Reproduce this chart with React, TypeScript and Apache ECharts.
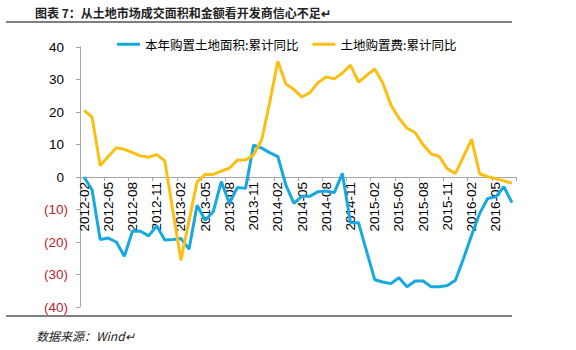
import React, { useEffect, useRef } from "react";
import * as echarts from "echarts";

const categories: string[] = [
  "2012-02", "2012-03", "2012-04", "2012-05", "2012-06", "2012-07", "2012-08", "2012-09", "2012-10", "2012-11", "2012-12",
  "2013-01", "2013-02", "2013-03", "2013-04", "2013-05", "2013-06", "2013-07", "2013-08", "2013-09", "2013-10", "2013-11", "2013-12",
  "2014-01", "2014-02", "2014-03", "2014-04", "2014-05", "2014-06", "2014-07", "2014-08", "2014-09", "2014-10", "2014-11", "2014-12",
  "2015-01", "2015-02", "2015-03", "2015-04", "2015-05", "2015-06", "2015-07", "2015-08", "2015-09", "2015-10", "2015-11", "2015-12",
  "2016-01", "2016-02", "2016-03", "2016-04", "2016-05", "2016-06", "2016-07",
];

// 本年购置土地面积:累计同比 (%)
const landAreaYoY: number[] = [
  0, -4.0, -19.2, -18.8, -20.0, -24.4, -16.6, -16.7, -18.1, -15.0, -19.4,
  -19.2, -18.9, -22.2, -8.7, -13.3, -10.7, -1.4, -8.1, -3.2, -3.5, 9.8, 8.9,
  7.5, 6.3, -2.5, -8.1, -5.9, -5.9, -4.5, -4.3, -4.8, 1.1, -14.1, -14.1,
  -22.9, -31.6, -32.3, -32.8, -31.0, -33.8, -32.0, -32.0, -33.8, -33.8, -33.4, -31.8,
  -25.1, -17.9, -11.2, -6.6, -6.1, -3.0, -7.9,
];

// 土地购置费:累计同比 (%)
const landCostYoY: number[] = [
  20.5, 18.4, 3.5, 6.3, 9.0, 8.5, 7.5, 6.5, 6.1, 6.9, 5.0,
  -10.4, -25.6, -13.5, -1.5, 0.8, 0.8, 1.8, 2.7, 5.2, 5.2, 6.8, 11.4,
  23.0, 35.6, 28.6, 26.9, 24.6, 26.0, 29.1, 30.8, 30.2, 32.0, 34.4, 29.2,
  31.3, 33.2, 28.9, 22.2, 18.1, 15.0, 13.7, 9.9, 7.1, 6.3, 2.5, 1.1,
  6.3, 11.6, 1.0, 0.1, -0.5, -1.2, -1.9,
];

const seriesNames: string[] = ["本年购置土地面积:累计同比", "土地购置费:累计同比"];
const titleText = "图表 7：从土地市场成交面积和金额看开发商信心不足↵";
const sourceText = "数据来源：Wind↵";

const BLUE = "#16A9E1";
const GOLD = "#FBBE12";
const AXIS_GRAY = "#A6A6A6";
const NEG_RED = "#B3242B";
const NUM_FONT = "Arial, 'Liberation Sans', sans-serif";
const CJK_FONT = "'Noto Sans CJK SC', sans-serif";

const GRID_TOP = 47;
const GRID_BOTTOM = 43;
const CHART_H = 350;

export default function App() {
  const ref = useRef<HTMLDivElement>(null);

  useEffect(() => {
    if (!ref.current) return;
    const chart = echarts.init(ref.current, undefined, { renderer: "svg" });
    const plotH = CHART_H - GRID_TOP - GRID_BOTTOM;
    chart.setOption({
      animation: false,
      backgroundColor: "#fff",
      grid: { left: 80, right: 60, top: GRID_TOP, bottom: GRID_BOTTOM, containLabel: false },
      legend: {
        left: 112,
        top: 33,
        icon: "rect",
        itemWidth: 23,
        itemHeight: 3,
        itemGap: 14,
        textStyle: { fontSize: 12.5, fontFamily: CJK_FONT, color: "#000" },
        data: seriesNames,
      },
      xAxis: {
        type: "category",
        data: categories,
        boundaryGap: true,
        position: "bottom",
        offset: -plotH / 2,
        axisLine: { onZero: false, lineStyle: { color: AXIS_GRAY, width: 1 } },
        axisTick: { show: true, interval: 2, length: 4, lineStyle: { color: AXIS_GRAY } },
        axisLabel: {
          interval: 2,
          rotate: 90,
          margin: 5,
          fontSize: 13.5,
          fontFamily: NUM_FONT,
          color: "#000",
        },
        splitLine: { show: false },
      },
      yAxis: {
        type: "value",
        min: -40,
        max: 40,
        interval: 10,
        axisLine: { show: true, lineStyle: { color: AXIS_GRAY, width: 1 } },
        axisTick: { show: true, length: 4, lineStyle: { color: AXIS_GRAY } },
        splitLine: { show: false },
        axisLabel: {
          margin: 12,
          fontSize: 13.5,
          fontFamily: NUM_FONT,
          formatter: (v: number) => (v < 0 ? `{n|(${-v})}` : `{p|${v}}`),
          rich: {
            n: { color: NEG_RED, fontSize: 13.5, fontFamily: NUM_FONT },
            p: { color: "#000", fontSize: 13.5, fontFamily: NUM_FONT, padding: [0, 4, 0, 0] },
          },
        },
      },
      series: [
        {
          name: seriesNames[0],
          type: "line",
          data: landAreaYoY,
          symbol: "none",
          lineStyle: { color: BLUE, width: 3 },
          itemStyle: { color: BLUE },
        },
        {
          name: seriesNames[1],
          type: "line",
          data: landCostYoY,
          symbol: "none",
          lineStyle: { color: GOLD, width: 3 },
          itemStyle: { color: GOLD },
        },
      ],
      graphic: [
        {
          type: "text",
          left: 35,
          top: 6,
          style: { text: titleText, fontSize: 12, fontWeight: "bold", fontFamily: CJK_FONT, fill: "#222" },
        },
        {
          type: "line",
          shape: { x1: 6, y1: 22, x2: 512, y2: 22 },
          style: { stroke: "#000", lineWidth: 1.2 },
        },
        {
          type: "line",
          shape: { x1: 6, y1: 316, x2: 512, y2: 316 },
          style: { stroke: "#000", lineWidth: 1.2 },
        },
        {
          type: "text",
          left: 36,
          top: 329,
          style: { text: sourceText, fontSize: 12, fontStyle: "italic", fontFamily: CJK_FONT, fill: "#222" },
        },
      ],
    });
    return () => chart.dispose();
  }, []);

  return (
    <div
      ref={ref}
      style={{ position: "absolute", left: 0, top: 0, width: 576, height: 350, background: "#fff" }}
    />
  );
}
